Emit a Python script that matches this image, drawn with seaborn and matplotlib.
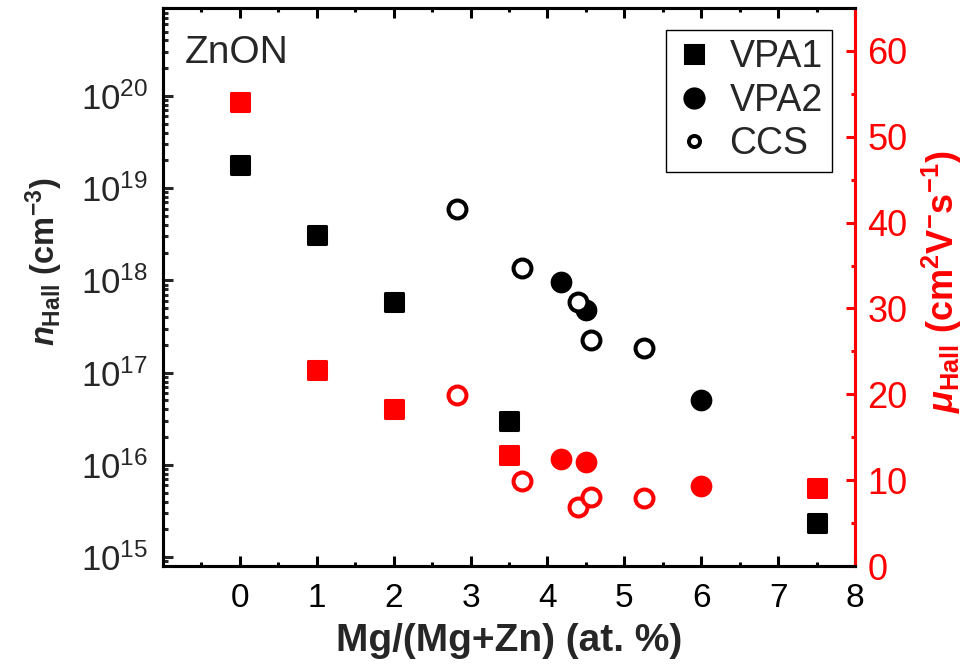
import matplotlib
matplotlib.use("Agg")
import matplotlib.pyplot as plt
import seaborn as sns
import numpy as np
from matplotlib.lines import Line2D
from matplotlib.ticker import FixedLocator, NullFormatter, LogFormatterSciNotation

# ---- data ----
x_vpa1 = [0, 1, 2, 3.5, 7.5]
n_vpa1 = [1.8e19, 3.1e18, 5.8e17, 3.0e16, 2.35e15]
mu_vpa1 = [54.0, 22.8, 18.3, 12.9, 9.1]

x_vpa2 = [4.17, 4.5, 6.0]
n_vpa2 = [9.5e17, 4.8e17, 5.0e16]
mu_vpa2 = [12.5, 12.15, 9.3]

x_ccs = [2.83, 3.67, 4.40, 4.56, 5.25]
n_ccs = [6.0e18, 1.38e18, 5.8e17, 2.26e17, 1.87e17]
mu_ccs = [19.9, 9.9, 6.9, 8.0, 7.9]

x_ticks = [0, 1, 2, 3, 4, 5, 6, 7, 8]
n_decades = [15, 16, 17, 18, 19, 20]
mu_ticks = [0, 10, 20, 30, 40, 50, 60]
legend_labels = ["VPA1", "VPA2", "CCS"]

RED = "#FF0000"
BLACK = "#000000"

sns.set_style("ticks")
plt.rcParams["font.family"] = ["Liberation Sans", "DejaVu Sans"]
plt.rcParams["mathtext.fontset"] = "custom"
plt.rcParams["mathtext.rm"] = "Liberation Sans:bold"
plt.rcParams["mathtext.it"] = "Liberation Sans:bold:italic"
plt.rcParams["mathtext.bf"] = "Liberation Sans:bold"

fig = plt.figure(figsize=(9.69, 6.66), dpi=100)
ax = fig.add_axes([163 / 969, 1 - 566 / 666, 692 / 969, 558 / 666])
ax2 = ax.twinx()


def draw(axis, x, y, color, kind):
    if kind == "square":
        sns.scatterplot(x=x, y=y, ax=axis, marker="s", s=169, color=color,
                        edgecolor=color, linewidth=2.2, zorder=3)
    elif kind == "dot":
        sns.scatterplot(x=x, y=y, ax=axis, marker="o", s=200, color=color,
                        edgecolor=color, linewidth=1.5, zorder=3)
    else:
        sns.scatterplot(x=x, y=y, ax=axis, marker="o", s=166, facecolor="white",
                        edgecolor=color, linewidth=2.9, zorder=4)
    axis.collections[-1].set_joinstyle("round")


# ---- left axis: carrier concentration ----
draw(ax, x_vpa1, n_vpa1, BLACK, "square")
draw(ax, x_vpa2, n_vpa2, BLACK, "dot")
draw(ax, x_ccs, n_ccs, BLACK, "open")

# ---- right axis: mobility ----
draw(ax2, x_vpa1, mu_vpa1, RED, "square")
draw(ax2, x_vpa2, mu_vpa2, RED, "dot")
draw(ax2, x_ccs, mu_ccs, RED, "open")

ax.set_yscale("log")
ax.set_xlim(-1, 8)
ax.set_ylim(8e14, 9e20)
ax2.set_ylim(0, 65)

ax.xaxis.set_major_locator(FixedLocator(x_ticks))
ax.xaxis.set_minor_locator(FixedLocator(np.arange(-0.5, 8.0, 1.0)))
major_y = [10.0 ** d for d in n_decades]
minor_y = [9e14] + [m * 10.0 ** d for d in n_decades for m in range(2, 10)]
ax.yaxis.set_major_locator(FixedLocator(major_y))
ax.yaxis.set_major_formatter(LogFormatterSciNotation())
ax.yaxis.set_minor_locator(FixedLocator(minor_y))
ax.yaxis.set_minor_formatter(NullFormatter())
ax2.yaxis.set_major_locator(FixedLocator(mu_ticks))
ax2.yaxis.set_minor_locator(FixedLocator(np.arange(5, 61, 10)))

lw = 2.2
for a in (ax, ax2):
    for sp in a.spines.values():
        sp.set_linewidth(lw)
        sp.set_color(BLACK)
ax2.spines["right"].set_color(RED)

ax.tick_params(axis="x", which="both", direction="in", top=True, bottom=True,
               width=lw, labelsize=24, pad=12, colors=BLACK)
ax.tick_params(axis="x", which="major", length=7.5)
ax.tick_params(axis="x", which="minor", length=3)
ax.tick_params(axis="y", which="both", direction="in", left=True, right=False,
               width=lw, labelsize=25, pad=11)
ax.tick_params(axis="y", which="major", length=7.5)
ax.tick_params(axis="y", which="minor", length=3.5)
ax2.tick_params(axis="y", which="both", direction="in", right=True, left=False,
                width=lw, labelsize=26, pad=9, colors=RED)
ax2.tick_params(axis="y", which="major", length=6.5)
ax2.tick_params(axis="y", which="minor", length=3)

ax.set_xlabel("")
ax.set_ylabel("")
ax2.set_ylabel("")

# ---- labels ----
fig.text(509 / 969, 1 - 641 / 666, "Mg/(Mg+Zn) (at. %)", fontsize=28,
         fontweight="bold", ha="center", va="center")
fig.text(44 / 969, 1 - 262 / 666, r"$n_{\mathrm{Hall}}$ (cm$^{-3}$)", fontsize=23.5,
         fontweight="bold", ha="center", va="center", rotation=90)
fig.text(942 / 969, 1 - 282 / 666, r"$\mu_{\mathrm{Hall}}$ (cm$^{2}$V$^{-}$s$^{-1}$)",
         fontsize=26, fontweight="bold", ha="center", va="center", rotation=90,
         color=RED)
fig.text(185 / 969, 1 - 53 / 666, "ZnON", fontsize=28, ha="left", va="center")

# ---- legend ----
handles = [
    Line2D([], [], ls="none", marker="s", ms=13, color=BLACK, mec=BLACK, mew=2.2,
           solid_joinstyle="round"),
    Line2D([], [], ls="none", marker="o", ms=14.5, color=BLACK, mec=BLACK, mew=1.5),
    Line2D([], [], ls="none", marker="o", ms=8, mfc="white", mec=BLACK, mew=2.8),
]
leg = ax2.legend(handles, legend_labels, loc="upper right",
                 bbox_to_anchor=(0.967, 0.961), fontsize=27, frameon=True,
                 fancybox=False, edgecolor=BLACK, framealpha=1,
                 borderpad=0.25, labelspacing=0.2, handletextpad=0.45,
                 handlelength=1.0, borderaxespad=0)
leg.get_frame().set_linewidth(1.0)

fig.savefig("out.png", dpi=100)
